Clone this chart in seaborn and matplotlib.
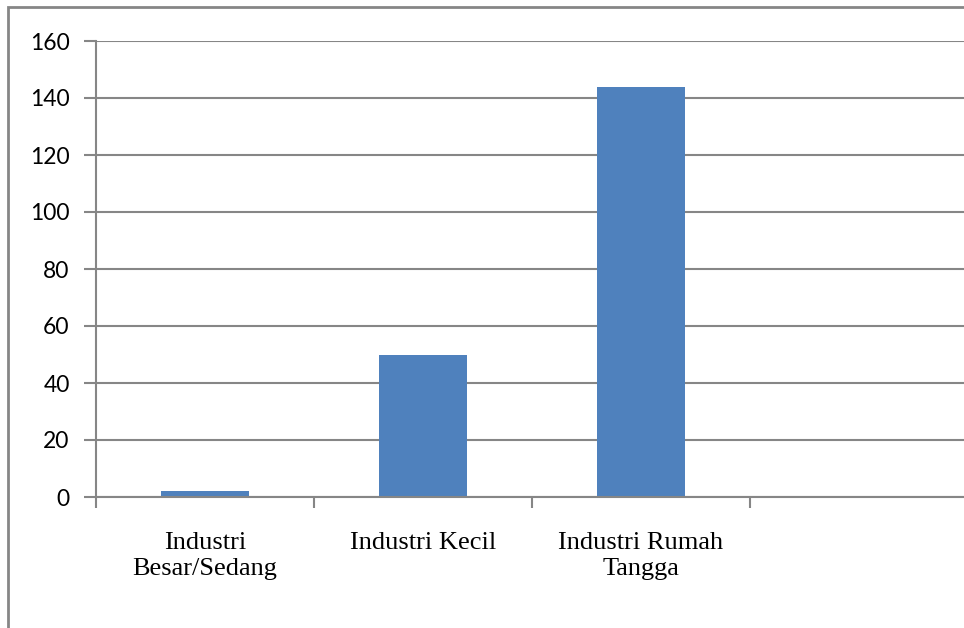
import pandas as pd
import seaborn as sns
import matplotlib.pyplot as plt
from matplotlib.patches import Rectangle

# values
categories = ["Industri\nBesar/Sedang", "Industri Kecil", "Industri Rumah\nTangga"]
counts = [2, 50, 144]
y_ticks = [0, 20, 40, 60, 80, 100, 120, 140, 160]

df = pd.DataFrame({"kategori": categories, "jumlah": counts})

sns.set_theme(style="white")
grey = "#868686"

fig = plt.figure(figsize=(9.64, 6.28), dpi=100)
# outer frame (right and bottom edges fall outside the picture)
fig.patches.append(Rectangle((8 / 964, -0.05), 1.2, 1.05 - 7 / 628,
                             transform=fig.transFigure, fill=False,
                             edgecolor=grey, linewidth=2))

ax = fig.add_axes([96 / 964, 1 - 497 / 628, 872 / 964, 456 / 628])
sns.barplot(data=df, x="kategori", y="jumlah", color="#4F81BD",
            width=0.4, saturation=1, linewidth=0, ax=ax)

ax.set_xlim(-0.5, 3.5)
ax.set_ylim(0, 160)
ax.set_yticks(y_ticks)
ax.set_yticklabels([str(t) for t in y_ticks], family="Lato", fontsize=16.5)
ax.yaxis.grid(True, color=grey, linewidth=1.5)
ax.set_axisbelow(True)
ax.tick_params(axis="y", direction="out", length=9, width=1.5, color=grey,
               left=True, pad=10)

# labels at the centres, tick marks at category boundaries
ax.set_xticks(range(len(categories)))
ax.set_xticklabels(categories, family="Liberation Serif", fontsize=19,
                   va="top", linespacing=1.25)
ax.set_xticks([-0.5, 0.5, 1.5, 2.5, 3.5], minor=True)
ax.tick_params(axis="x", which="major", length=0, pad=25)
ax.tick_params(axis="x", which="minor", direction="out", length=8,
               width=1.5, color=grey, bottom=True)

for side in ["top", "right"]:
    ax.spines[side].set_visible(False)
for side in ["left", "bottom"]:
    ax.spines[side].set_color(grey)
    ax.spines[side].set_linewidth(1.5)

ax.set_xlabel("")
ax.set_ylabel("")
for lbl in ax.get_xticklabels() + ax.get_yticklabels():
    lbl.set_color("black")

fig.savefig("out.png", dpi=100)
